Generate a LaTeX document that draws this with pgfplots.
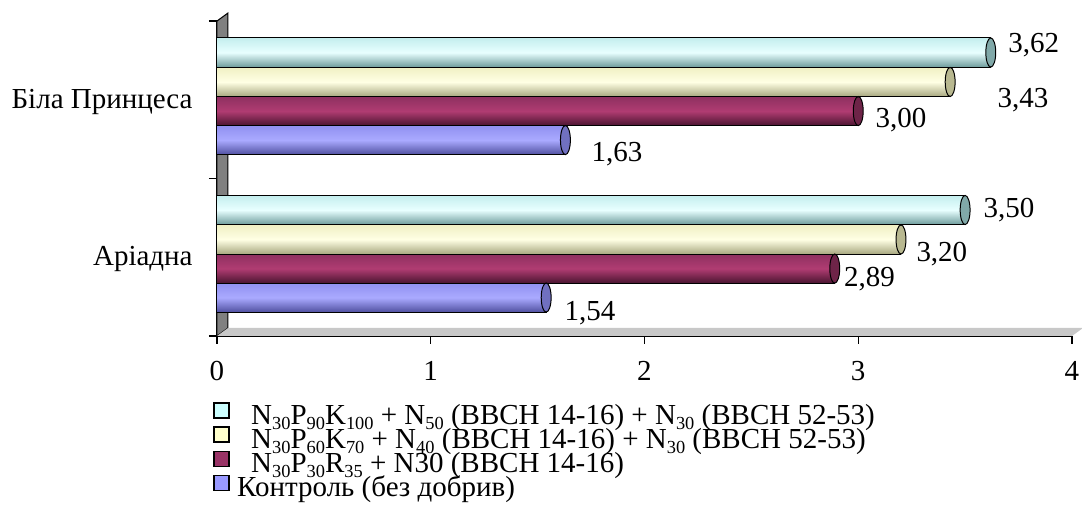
\documentclass[border=0pt]{standalone}
\usepackage{fontspec}
\setmainfont{Liberation Serif}
\usepackage{pgfplots}
\usepackage{pgfplotstable}
\pgfplotsset{compat=1.18}

\definecolor{cyanL}{HTML}{CCFFFF}
\definecolor{cyanT}{HTML}{C4EEEE}
\definecolor{cyanM}{HTML}{E8FFFF}
\definecolor{cyanD}{HTML}{6E9C9C}
\definecolor{cyanC}{HTML}{80A8A8}
\definecolor{yelL}{HTML}{FFFFCC}
\definecolor{yelT}{HTML}{F0F0C4}
\definecolor{yelM}{HTML}{FFFFE4}
\definecolor{yelD}{HTML}{A8A880}
\definecolor{yelC}{HTML}{B8B890}
\definecolor{marL}{HTML}{993366}
\definecolor{marT}{HTML}{8E3060}
\definecolor{marM}{HTML}{B03C72}
\definecolor{marD}{HTML}{4A1530}
\definecolor{marC}{HTML}{6E2448}
\definecolor{bluL}{HTML}{9999FF}
\definecolor{bluT}{HTML}{9090F0}
\definecolor{bluM}{HTML}{AAAAFF}
\definecolor{bluD}{HTML}{5050A0}
\definecolor{bluC}{HTML}{7070C0}
\definecolor{wallc}{HTML}{808080}
\definecolor{floorc}{HTML}{C8C8C8}

% y: 0 = Аріадна, 1 = Біла Принцеса; dx, dy: label offsets (pt)
\pgfplotstableread{
y x dx dy
0 3.50 9 -3.65
1 3.62 8.5 -0.15
}\tcyan
\pgfplotstableread{
y x dx dy
0 3.20 7.5 -10.9
1 3.43 23.5 -12.9
}\tyel
\pgfplotstableread{
y x dx dy
0 2.89 4.5 -8.9
1 3.00 8.5 -8.15
}\tmar
\pgfplotstableread{
y x dx dy
0 1.54 9 -11.4
1 1.63 12.8 -10.9
}\tblu

\newcommand\ff{\fontsize{14.5}{17}\selectfont}
\newcommand\sub[1]{\raisebox{-2.6pt}{\fontsize{9.2}{10}\selectfont #1}}

\pgfplotsset{
  barlab/.style={
    nodes near coords={\pgfmathprintnumber[fixed,fixed zerofill,precision=2,use comma,assume math mode=true]{\pgfplotspointmeta}},
    point meta=x,
    visualization depends on=\thisrow{dx}\as\dx,
    visualization depends on=\thisrow{dy}\as\dy,
    every node near coord/.append style={anchor=base west, inner sep=0pt, font=\ff, text=black, xshift=\dx pt, yshift=\dy pt},
  },
  capstyle/.style={only marks, mark=*, mark size=7.28pt,
    mark options={xscale=0.34, fill=#1, draw=black, line width=0.5pt}, forget plot, barlab},
  onlyfirst/.style={skip coords between index={1}{2}},
  onlysecond/.style={skip coords between index={0}{1}},
  cyl/.style n args={4}{xbar, bar width=0.185, bar shift=#1, draw=black, line width=0.5pt,
    top color=#2, bottom color=#4, middle color=#3, forget plot},
}

\begin{document}
\begin{tikzpicture}
\path[use as bounding box] (-108.5pt,-96.5pt) rectangle (432.5pt,168pt);
\begin{axis}[
  scale only axis, width=427.5pt, height=157.5pt,
  xmin=0, xmax=4, ymin=-0.5, ymax=1.5,
  clip=false,
  axis x line*=bottom, axis y line*=left,
  axis line style={-, black, line width=0.7pt},
  tick align=outside, major tick length=4pt,
  tick style={black, line width=0.6pt},
  xtick={0,1,2,3,4},
  ytick={-0.5,0.5,1.5}, yticklabels={,,},
  extra y ticks={0,1},
  extra y tick labels={Аріадна, Біла Принцеса},
  extra y tick style={major tick length=0pt,
     yticklabel style={inner sep=0pt, xshift=-12pt, yshift=-1pt}},
  /pgf/number format/assume math mode=true,
  tick label style={font=\ff},
  xticklabel style={yshift=-5pt},
  legend image code/.code={\draw[#1] (0pt,-0.5pt) rectangle (7.5pt,7pt);},
  legend style={at={(0,0)}, anchor=north west, xshift=-2pt, yshift=-33pt,
     draw=none, fill=none, font=\ff, inner sep=0pt, row sep=-1.5pt, column sep=3.5pt,
     nodes={inner sep=0pt, text height=9.5pt, text depth=2.7pt}},
  legend cell align=left,
]
% 3D wall and floor
\filldraw[fill=wallc, draw=black, line width=0.5pt] (axis cs:0,-0.5) -- (axis cs:0,1.5) -- ([shift={(5.5pt,4pt)}]axis cs:0,1.5) -- ([shift={(5.5pt,4pt)}]axis cs:0,-0.5) -- cycle;
\fill[floorc] (axis cs:0,-0.5) -- ([shift={(5.5pt,4pt)}]axis cs:0,-0.5) -- ([shift={(5.5pt,4pt)}]axis cs:4,-0.5) -- (axis cs:4,-0.5) -- cycle;

% Контроль
\addplot[cyl={-0.256}{bluT}{bluM}{bluD}, onlyfirst]  table[x=x,y=y]{\tblu};
\addplot[cyl={-0.256}{bluT}{bluM}{bluD}, onlysecond] table[x=x,y=y]{\tblu};
\addplot[capstyle=bluC] table[x=x, y expr=\thisrow{y}-0.256]{\tblu};
% N30P30R35
\addplot[cyl={-0.072}{marT}{marM}{marD}, onlyfirst]  table[x=x,y=y]{\tmar};
\addplot[cyl={-0.072}{marT}{marM}{marD}, onlysecond] table[x=x,y=y]{\tmar};
\addplot[capstyle=marC] table[x=x, y expr=\thisrow{y}-0.072]{\tmar};
% N30P60K70
\addplot[cyl={0.113}{yelT}{yelM}{yelD}, onlyfirst]  table[x=x,y=y]{\tyel};
\addplot[cyl={0.113}{yelT}{yelM}{yelD}, onlysecond] table[x=x,y=y]{\tyel};
\addplot[capstyle=yelC] table[x=x, y expr=\thisrow{y}+0.113]{\tyel};
% N30P90K100
\addplot[cyl={0.30}{cyanT}{cyanM}{cyanD}, onlyfirst]  table[x=x,y=y]{\tcyan};
\addplot[cyl={0.30}{cyanT}{cyanM}{cyanD}, onlysecond] table[x=x,y=y]{\tcyan};
\addplot[capstyle=cyanC] table[x=x, y expr=\thisrow{y}+0.30]{\tcyan};

% legend
\addlegendimage{fill=cyanL, draw=black, line width=0.9pt}
\addlegendentry{\hspace*{7pt}N\sub{30}P\sub{90}K\sub{100} + N\sub{50} (BBCH 14-16) + N\sub{30} (BBCH 52-53)}
\addlegendimage{fill=yelL, draw=black, line width=0.9pt}
\addlegendentry{\hspace*{7pt}N\sub{30}P\sub{60}K\sub{70} + N\sub{40} (BBCH 14-16) + N\sub{30} (BBCH 52-53)}
\addlegendimage{fill=marL, draw=black, line width=0.9pt}
\addlegendentry{\hspace*{7pt}N\sub{30}P\sub{30}R\sub{35} + N30 (BBCH 14-16)}
\addlegendimage{fill=bluL, draw=black, line width=0.9pt}
\addlegendentry{Контроль (без добрив)}
\end{axis}
\end{tikzpicture}
\end{document}
